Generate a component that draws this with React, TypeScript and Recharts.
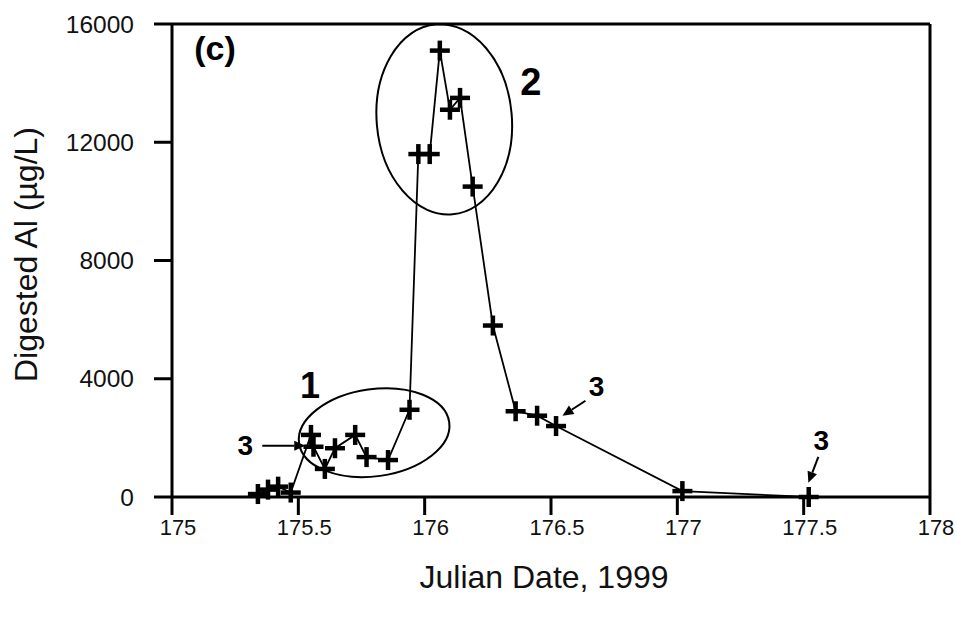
import {
  LineChart,
  Line,
  XAxis,
  YAxis,
  ReferenceLine,
  ReferenceArea,
  ReferenceDot,
} from 'recharts';

// Julian date (1999) and digested Al in ug/L
const julianDates = [
  175.34, 175.38, 175.42, 175.47, 175.55, 175.56, 175.605, 175.645, 175.725, 175.77, 175.855, 175.94,
  175.975, 176.02, 176.06, 176.1, 176.14, 176.19, 176.27, 176.36, 176.445, 176.52, 177.02, 177.52,
];
const digestedAl = [
  100, 250, 350, 150, 2100, 1700, 950, 1650, 2100, 1350, 1250, 2950,
  11600, 11600, 15100, 13100, 13500, 10500, 5800, 2900, 2750, 2400, 200, 0,
];

const xTicks = [175, 175.5, 176, 176.5, 177, 177.5, 178];
const yTicks = [0, 4000, 8000, 12000, 16000];

const chartData = julianDates.map((d, i) => ({ date: d, al: digestedAl[i] }));

const FONT = '"Liberation Sans", Arial, sans-serif';

const PlusDot = (props: any) => {
  const { cx, cy, index } = props;
  if (cx == null || cy == null) return <g key={`p-${index}`} />;
  return (
    <g key={`p-${index}`}>
      <line x1={cx - 10} x2={cx + 10} y1={cy} y2={cy} stroke="#000" strokeWidth={4.5} />
      <line x1={cx} x2={cx} y1={cy - 10} y2={cy + 10} stroke="#000" strokeWidth={4.5} />
    </g>
  );
};

const XTick = (props: any) => {
  const { x, y, payload } = props;
  return (
    <text x={x + 6} y={y} dy="0.71em" textAnchor="middle" fontFamily={FONT} fontSize={22} fill="#111">
      {payload.value}
    </text>
  );
};

const ellipseShape = (tilt: number) => (props: any) => {
  const { x, y, width, height } = props;
  const cx = x + width / 2;
  const cy = y + height / 2;
  return (
    <ellipse
      cx={cx}
      cy={cy}
      rx={width / 2}
      ry={height / 2}
      fill="none"
      stroke="#000"
      strokeWidth={2}
      transform={`rotate(${tilt} ${cx} ${cy})`}
    />
  );
};

// text label with an optional arrow, offsets in px from the label centre
const noteShape = (text: string, size: number, arrow?: number[]) => (props: any) => {
  const { cx, cy } = props;
  let arrowEl = null;
  if (arrow) {
    const [ax1, ay1, ax2, ay2] = arrow;
    const x1 = cx + ax1, y1 = cy + ay1, x2 = cx + ax2, y2 = cy + ay2;
    const a = Math.atan2(y2 - y1, x2 - x1);
    const len = 11, half = 5;
    const bx = x2 - len * Math.cos(a), by = y2 - len * Math.sin(a);
    const p1 = `${bx + half * Math.sin(a)},${by - half * Math.cos(a)}`;
    const p2 = `${bx - half * Math.sin(a)},${by + half * Math.cos(a)}`;
    arrowEl = (
      <g>
        <line x1={x1} y1={y1} x2={bx} y2={by} stroke="#000" strokeWidth={2} />
        <polygon points={`${x2},${y2} ${p1} ${p2}`} fill="#000" />
      </g>
    );
  }
  return (
    <g>
      <text
        x={cx}
        y={cy}
        textAnchor="middle"
        dominantBaseline="central"
        fontFamily={FONT}
        fontWeight="bold"
        fontSize={size}
        fill="#000"
      >
        {text}
      </text>
      {arrowEl}
    </g>
  );
};

export default function App() {
  return (
    <div style={{ position: 'absolute', left: 0, top: 0, background: '#fff' }}>
      <LineChart
        width={957}
        height={625}
        data={chartData}
        margin={{ top: 24, right: 27, bottom: 0, left: 0 }}
      >
        <XAxis
          dataKey="date"
          type="number"
          domain={[175, 178]}
          ticks={xTicks}
          height={128}
          axisLine={{ stroke: '#000', strokeWidth: 3 }}
          tickLine={{ stroke: '#000', strokeWidth: 3 }}
          tickSize={18}
          tickMargin={4}
          tick={XTick}
          label={{
            content: (p: any) => {
              const vb = p.viewBox;
              return (
                <text
                  x={vb.x + vb.width / 2 - 7}
                  y={vb.y + 80}
                  textAnchor="middle"
                  dominantBaseline="central"
                  fontFamily={FONT}
                  fontSize={32}
                  fill="#111"
                >
                  Julian Date, 1999
                </text>
              );
            },
          }}
        />
        <YAxis
          type="number"
          domain={[0, 16000]}
          ticks={yTicks}
          width={172}
          axisLine={{ stroke: '#000', strokeWidth: 3 }}
          tickLine={{ stroke: '#000', strokeWidth: 3 }}
          tickSize={18}
          tickMargin={20}
          tick={{ fill: '#111', fontSize: 24.5, fontFamily: FONT }}
          label={{
            content: (p: any) => {
              const vb = p.viewBox;
              const x = vb.x + 26;
              const y = vb.y + vb.height / 2 - 6;
              return (
                <text
                  x={x}
                  y={y}
                  transform={`rotate(-90 ${x} ${y})`}
                  textAnchor="middle"
                  dominantBaseline="central"
                  fontFamily={FONT}
                  fontSize={32}
                  fill="#111"
                >
                  Digested Al (µg/L)
                </text>
              );
            },
          }}
        />
        <ReferenceLine y={16000} stroke="#000" strokeWidth={3} />
        <ReferenceLine x={178} stroke="#000" strokeWidth={3} />

        <ReferenceArea x1={175.5} x2={176.1} y1={700} y2={3650} shape={ellipseShape(-8)} />
        <ReferenceArea x1={175.81} x2={176.345} y1={9550} y2={16000} shape={ellipseShape(-5)} />

        <Line
          type="linear"
          dataKey="al"
          stroke="#000"
          strokeWidth={1.8}
          dot={PlusDot}
          activeDot={false}
          isAnimationActive={false}
        />

        <ReferenceDot x={175.17} y={15200} r={0} shape={noteShape('(c)', 34)} />
        <ReferenceDot x={175.546} y={3760} r={0} shape={noteShape('1', 36)} />
        <ReferenceDot x={176.42} y={14030} r={0} shape={noteShape('2', 38)} />
        <ReferenceDot x={175.29} y={1730} r={0} shape={noteShape('3', 28, [17, 0, 60, 0])} />
        <ReferenceDot x={176.68} y={3730} r={0} shape={noteShape('3', 28, [-11, 14, -34, 29])} />
        <ReferenceDot x={177.57} y={1900} r={0} shape={noteShape('3', 28, [-3, 16, -13, 42])} />
      </LineChart>
    </div>
  );
}
